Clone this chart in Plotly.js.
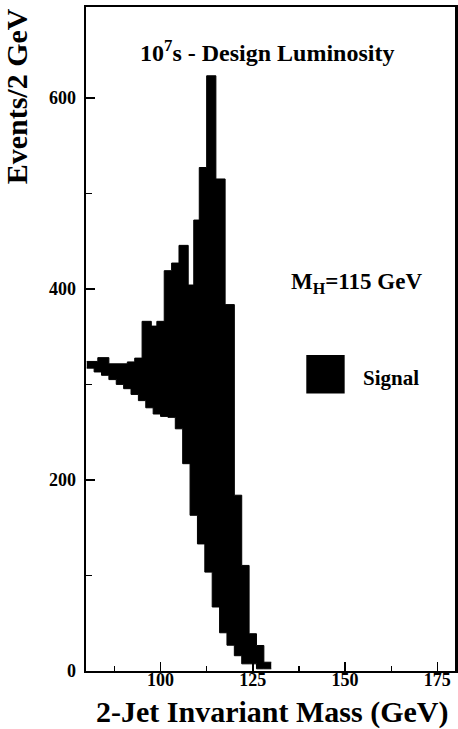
<!DOCTYPE html>
<html>
<head>
<meta charset="utf-8">
<script src="https://cdn.plot.ly/plotly-3.0.1.min.js"></script>
<style>
html,body{margin:0;padding:0;background:#fff;}
#chart{width:458px;height:729px;}
</style>
</head>
<body>
<div id="chart"></div>
<script>
// Background histogram (2 GeV bins): bin edges and events per bin
const bkgEdges = [80,82,84,86,88,90,92,94,96,98,100,102,104,106,108,110,112,114,116,118,120,122,124,126,128,130];
const bkgEvents = [317,313,309.5,305,300,295.5,289.5,283,275.5,269,266.5,265.5,253.5,217,163,133,103.5,67,40,27,16,7.5,7.5,2.3,2.3];

// Signal + background (upper edge of the black region)
const totEdges = [80,83,86,91,93,95,97.5,99,101,103,105,107.5,109,110.5,112.5,115,117.5,120,122,124,126,128,130];
const totEvents = [324,328,321.5,323.5,327.5,366,361,366,419,427,445.5,404,472,527,623,515,383.5,184,110.5,39,26.7,9.2];

const xMajorTicks = [100,125,150,175];
const xMinorTicks = [87.5,112.5,137.5,162.5];
const yMajorTicks = [0,200,400,600];
const yMinorTicks = [100,300,500];

const titleText = "10<sup>7</sup>s - Design Luminosity";
const massText = "M<sub>H</sub>=115 GeV";
const legendText = "Signal";
const xTitle = "2-Jet Invariant Mass (GeV)";
const yTitle = "Events/2 GeV";

const F = "Liberation Serif, Times New Roman, serif";

function stepY(v){ return v.concat([v[v.length-1]]); }

const traces = [
  {x: bkgEdges, y: stepY(bkgEvents), type:'scatter', mode:'lines',
   line:{shape:'hv', color:'#000', width:1}, hoverinfo:'skip', showlegend:false},
  {x: totEdges, y: stepY(totEvents), type:'scatter', mode:'lines',
   line:{shape:'hv', color:'#000', width:1}, fill:'tonexty', fillcolor:'#000',
   name:legendText, showlegend:false}
];

const axisCommon = {
  showline:true, linewidth:2, linecolor:'#000', mirror:true,
  showgrid:false, zeroline:false,
  ticks:'inside', ticklen:9, tickwidth:1.5, tickcolor:'#000',
  tickfont:{family:F, size:18, color:'#000', weight:700}
};

const layout = {
  width:458, height:729,
  margin:{l:86, r:3, t:7, b:58},
  paper_bgcolor:'#fff', plot_bgcolor:'#fff',
  showlegend:false,
  font:{family:F, color:'#000'},
  xaxis: Object.assign({}, axisCommon, {
    range:[79.8,179.8], tickmode:'array', tickvals:xMajorTicks,
    ticklabelstandoff:-9,
    minor:{tickmode:'array', tickvals:xMinorTicks, ticks:'inside', ticklen:5, tickwidth:1.2, tickcolor:'#000'}
  }),
  yaxis: Object.assign({}, axisCommon, {
    range:[0,695], tickmode:'array', tickvals:yMajorTicks,
    ticklabelstandoff:4, linewidth:2.5,
    minor:{tickmode:'array', tickvals:yMinorTicks, ticks:'inside', ticklen:6, tickwidth:1.2, tickcolor:'#000'}
  }),
  shapes:[
    {type:'rect', xref:'paper', yref:'paper', x0:0.597, x1:0.701, y0:0.418, y1:0.476,
     fillcolor:'#000', line:{width:0}}
  ],
  annotations:[
    {text:titleText, xref:'paper', yref:'paper', x:0.49, y:0.934, xanchor:'center', yanchor:'middle',
     showarrow:false, font:{family:F, size:24, color:'#000', weight:700}},
    {text:massText, xref:'paper', yref:'paper', x:0.733, y:0.584, xanchor:'center', yanchor:'middle',
     showarrow:false, font:{family:F, size:23, color:'#000', weight:700}},
    {text:legendText, xref:'paper', yref:'paper', x:0.746, y:0.441, xanchor:'left', yanchor:'middle',
     showarrow:false, font:{family:F, size:21, color:'#000', weight:700}},
    {text:xTitle, xref:'paper', yref:'paper', x:0.503, y:-0.061, xanchor:'center', yanchor:'middle',
     showarrow:false, font:{family:F, size:30, color:'#000', weight:700}},
    {text:yTitle, xref:'paper', yref:'paper', x:-0.186, y:0.866, xanchor:'center', yanchor:'middle',
     textangle:-90, showarrow:false, font:{family:F, size:30, color:'#000', weight:700}}
  ]
};

Plotly.newPlot('chart', traces, layout, {displayModeBar:false, staticPlot:true});
</script>
</body>
</html>
